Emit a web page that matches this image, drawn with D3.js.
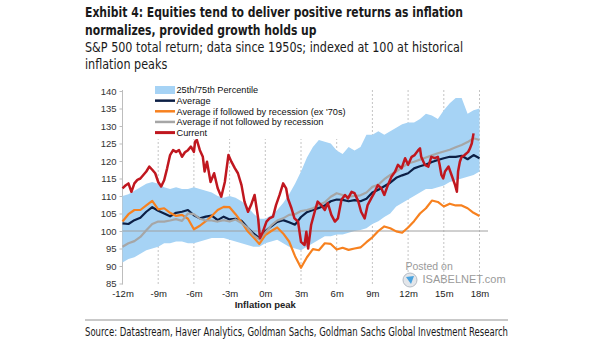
<!DOCTYPE html>
<html>
<head>
<meta charset="utf-8">
<script src="https://cdn.jsdelivr.net/npm/d3@7/dist/d3.min.js"></script>
<style>
  html, body { margin: 0; padding: 0; background: #fff; }
  svg { display: block; }
  .narrow { font-family: "Liberation Sans Narrow", "Arial Narrow", "DejaVu Sans Condensed", "Liberation Sans", sans-serif; font-stretch: condensed; }
  .sans { font-family: "Liberation Sans", Arial, "Helvetica", sans-serif; }
</style>
</head>
<body>
<svg id="chart" width="605" height="341"></svg>
<script>
// ---------------- DATA ----------------
const titleLines = [
  "Exhibit 4: Equities tend to deliver positive returns as inflation",
  "normalizes, provided growth holds up"
];
const subtitleLines = [
  "S&P 500 total return; data since 1950s; indexed at 100 at historical",
  "inflation peaks"
];
const sourceText = "Source: Datastream, Haver Analytics, Goldman Sachs, Goldman Sachs Global Investment Research";

const legendLabels = [
  "25th/75th Percentile",
  "Average",
  "Average if followed by recession (ex '70s)",
  "Average if not followed by recession",
  "Current"
];

const xTickMonths = [-12, -9, -6, -3, 0, 3, 6, 9, 12, 15, 18];
const xTickLabels = ["-12m", "-9m", "-6m", "-3m", "0m", "3m", "6m", "9m", "12m", "15m", "18m"];
const yTicks = [85, 90, 95, 100, 105, 110, 115, 120, 125, 130, 135, 140];

const months = [-12, -11.5, -11, -10.5, -10, -9.5, -9, -8.5, -8, -7.5, -7, -6.5, -6, -5.5, -5, -4.5, -4, -3.5, -3, -2.5, -2, -1.5, -1, -0.5,
  0, 0.5, 1, 1.5, 2, 2.5, 3, 3.5, 4, 4.5, 5, 5.5, 6, 6.5, 7, 7.5, 8, 8.5, 9, 9.5, 10, 10.5, 11, 11.5, 12, 12.5, 13, 13.5, 14, 14.5, 15, 15.5, 16, 16.5, 17, 17.5, 18];

const bandUpper = [110, 110.5, 111.5, 112.5, 113.5, 114, 113.5, 112.5, 112, 112.5, 112, 112, 112.5, 112, 111.5, 111, 110, 109.5, 110, 109.5, 108.5, 107, 105, 103.5,
  103.5, 104.5, 106, 108, 110.5, 113.5, 117, 121, 124, 126, 125.5, 125, 123, 122, 124, 123, 124, 127.5, 127.5, 128.5, 127.5, 128.5, 129.5, 130.5, 131, 131, 132, 133.5, 133, 132, 134.5, 136.5, 138, 138, 133.5, 134.5, 135];
const bandLower = [91, 92, 92.5, 93.5, 94.5, 95, 95.5, 96.5, 96.5, 97, 97, 96.5, 96.5, 97, 97.5, 98, 98, 98, 97.5, 97, 96.5, 96, 95.5, 95.5,
  96.5, 97, 97.5, 96.5, 95.5, 95, 94.5, 95.5, 96.5, 97.5, 98.5, 98.5, 99, 99, 99.5, 100, 100.3, 100.8, 102, 102.8, 104, 105, 107, 108, 109, 110, 111, 112, 112, 112.5, 113, 114, 114.5, 115, 115.5, 116, 117];

const average = [102.2, 102, 103.1, 103.8, 105.5, 106.8, 105.8, 105, 104.2, 105.2, 105.5, 106, 104.5, 103.6, 104.1, 104.4, 103.1, 104.1, 103.3, 103.5, 102.9, 101, 99.3, 98,
  100, 101.3, 102.6, 103.1, 102.5, 101.8, 104, 105.4, 106, 106.6, 107.3, 108.5, 109, 108.9, 108.5, 108.8, 108.5, 109.2, 111, 111.8, 112.8, 113.8, 115.2, 115.9, 116.5, 117.9, 118.5, 119, 119.7, 120.3, 120.8, 121.2, 121.2, 121.5, 120.5, 121.7, 120.8];

const avgRecession = [102.7, 104.8, 106, 106, 107.3, 108.6, 106.2, 106.5, 105.2, 104.3, 104.6, 103.5, 100.5, 101.5, 102.8, 104.3, 106, 106.9, 106.8, 104.8, 102.5, 100, 98.2, 96.3,
  98.8, 100, 101, 99.3, 97, 92.8, 89.5, 92.5, 94.8, 94.5, 96.5, 96.3, 94.7, 95.2, 94.6, 95, 95.3, 96.8, 98.2, 100, 101.3, 100.8, 99.9, 99.5, 101, 102.8, 105, 106.5, 108.7, 108.3, 107, 107.8, 107.3, 107.3, 106.5, 105.2, 104.3];

const avgNoRecession = [95.5, 96.5, 97.1, 98.3, 100.2, 102, 102.7, 102.7, 103, 103.4, 102.9, 105, 104.8, 103.5, 103, 103, 102.7, 103.1, 102.7, 103.3, 102.3, 101, 98.8, 97.6,
  99.5, 101.6, 103, 103.6, 104.6, 104.8, 105.7, 106, 106.5, 107.4, 108.2, 109.8, 110.8, 110.3, 109.8, 110, 110.2, 111, 112.6, 113.2, 114.8, 116, 117, 118.2, 119.3, 119.8, 120.4, 121, 121.6, 122.2, 122.7, 123.2, 123.9, 124.6, 125.4, 126.5, 126];

const currentMonths = [-12, -11.75, -11.5, -11.25, -11, -10.75, -10.5, -10.25, -10, -9.75, -9.5, -9.25, -9, -8.75, -8.5, -8.25, -8, -7.75, -7.5, -7.25, -7, -6.75, -6.5, -6.25, -6, -5.9, -5.75, -5.5, -5.25, -5.1, -4.9, -4.6, -4.3, -4, -3.7, -3.4, -3.1, -2.85, -2.55, -2.3, -2,
  -1.75, -1.45, -1.2, -0.9, -0.6, -0.45, -0.2, 0.1, 0.35, 0.65, 0.9, 1.2, 1.5, 1.75, 1.9, 2.2, 2.45, 2.75, 3, 3.3, 3.45, 3.6, 3.85, 4.15, 4.4, 4.7, 5, 5.25, 5.55, 5.85, 6.1, 6.4, 6.7, 6.95, 7.25, 7.5, 7.8,
  8.05, 8.35, 8.6, 8.9, 9.2, 9.45, 9.75, 10, 10.3, 10.6, 10.9, 11.15, 11.45, 11.75, 12, 12.3, 12.55, 12.85, 13, 13.1, 13.4, 13.7, 13.95, 14.25, 14.5, 14.65, 14.8, 14.95, 15.1, 15.4, 15.65, 15.95, 16.1, 16.2, 16.35, 16.5, 16.75, 17.05, 17.2, 17.35, 17.5];
const currentValues = [112.2, 113, 113.6, 111.2, 113.6, 114.6, 115, 116, 117, 118.4, 117.5, 116.5, 114, 112.7, 114.5, 117.9, 121.7, 123.1, 122.6, 123.1, 121.2, 122.5, 123.1, 124.1, 122.6, 125.5, 126, 123.1, 121.2, 117, 119.8, 114, 116.5, 112.2, 109.8, 114, 121.7, 119.8, 117.9, 116.5, 113.1,
  108.4, 105.5, 107.4, 110.3, 103.6, 97.9, 99.8, 102.7, 103.6, 104.1, 107.4, 110.3, 113.6, 112.2, 109.3, 106.5, 103.6, 102.7, 96.9, 96, 99.8, 95, 101.7, 105.5, 108.4, 107.4, 106, 108, 104.6, 102.7, 103.6, 108.9, 110.3, 109.3, 111.2, 110.8, 108.6,
  105.5, 103.6, 107.4, 109.3, 111.2, 113.1, 112.2, 110.3, 113.1, 115.5, 116.9, 118.9, 117.9, 120.8, 118.9, 121.2, 121.7, 123.1, 123.6, 121.2, 118.9, 118.4, 121.2, 120.8, 121.2, 118.9, 116, 115, 117, 118.4, 116, 113.1, 111.2, 117, 119.8, 121.2, 121.7, 122.6, 123.6, 125, 127.9];

const colors = {
  band: "#a6d3f5",
  average: "#0c1f45",
  recession: "#f7811f",
  noRecession: "#a6a6a6",
  current: "#c0171f"
};

// ---------------- DRAW ----------------
const svg = d3.select("#chart");

const x = d3.scaleLinear().domain([-12, 18]).range([122.5, 479.5]);
const y = d3.scaleLinear().domain([85, 140]).range([283.5, 91]);

// fit a block of text lines so that its widest (first) line spans targetWidth
function fitBlock(sel, targetWidth) {
  const nodes = sel.nodes();
  const w0 = nodes[0].getComputedTextLength();
  const k = targetWidth / w0;
  nodes.forEach(n => {
    const w = n.getComputedTextLength();
    d3.select(n).attr("textLength", w * k).attr("lengthAdjust", "spacingAndGlyphs");
  });
}

// Titles
const title = svg.append("g").attr("class", "narrow");
const tLines = title.selectAll("text.t").data(titleLines).join("text")
  .attr("class", "t")
  .attr("x", 85).attr("y", (d, i) => 17 + i * 17.5)
  .attr("font-size", 14).attr("font-weight", "bold").attr("fill", "#1a1a1a")
  .text(d => d);
fitBlock(tLines, 378);
const sLines = title.selectAll("text.s").data(subtitleLines).join("text")
  .attr("class", "s")
  .attr("x", 85).attr("y", (d, i) => 52 + i * 17)
  .attr("font-size", 14).attr("fill", "#1a1a1a")
  .text(d => d);
fitBlock(sLines, 378);

// Gridlines (vertical dotted)
const grid = svg.append("g");
grid.selectAll("line").data(xTickMonths.slice(1)).join("line")
  .attr("x1", d => x(d)).attr("x2", d => x(d))
  .attr("y1", 90).attr("y2", 285)
  .attr("stroke", "#c4c4c4").attr("stroke-width", 1)
  .attr("stroke-dasharray", "2,2");

// Y axis
const yAxis = d3.axisLeft(y).tickValues(yTicks).tickSize(3).tickPadding(3);
const yg = svg.append("g").attr("transform", "translate(122.5,0)").call(yAxis);
yg.select(".domain").attr("stroke", "#bdbdbd").attr("d", `M-0,${y(85) + 1}V${y(140) - 1}`);
yg.selectAll(".tick line").attr("stroke", "#bdbdbd");
yg.selectAll(".tick text").attr("class", "sans").attr("font-size", 9.5).attr("fill", "#333");

// X axis labels (no line)
const xAxis = d3.axisBottom(x).tickValues(xTickMonths).tickFormat((d, i) => xTickLabels[i]).tickSize(0).tickPadding(0);
const xg = svg.append("g").attr("transform", "translate(0,290.5)").call(xAxis);
xg.select(".domain").remove();
xg.selectAll(".tick text").attr("class", "sans").attr("font-size", 9.5).attr("fill", "#222").attr("dy", "0.71em");

svg.append("text").attr("class", "sans")
  .attr("x", x(0)).attr("y", 307.5).attr("text-anchor", "middle")
  .attr("font-size", 9.5).attr("font-weight", "bold").attr("fill", "#222")
  .text("Inflation peak");

// Band
const bandData = months.map((m, i) => ({ m, lo: bandLower[i], hi: bandUpper[i] }));
svg.append("path").datum(bandData)
  .attr("fill", colors.band)
  .attr("d", d3.area().x(d => x(d.m)).y0(d => y(d.lo)).y1(d => y(d.hi)));

// 100 reference line
svg.append("line")
  .attr("x1", x(-12)).attr("x2", 488)
  .attr("y1", y(100)).attr("y2", y(100))
  .attr("stroke", "#a0a0a0").attr("stroke-width", 1);

// Lines
const line = d3.line().x(d => x(d[0])).y(d => y(d[1]));
const series = [
  { vals: average, color: colors.average, w: 2.2 },
  { vals: avgRecession, color: colors.recession, w: 2.2 },
  { vals: avgNoRecession, color: colors.noRecession, w: 2.2 }
];
series.forEach(s => {
  svg.append("path").datum(months.map((m, i) => [m, s.vals[i]]))
    .attr("fill", "none").attr("stroke", s.color).attr("stroke-width", s.w)
    .attr("stroke-linejoin", "round").attr("d", line);
});
svg.append("path").datum(currentMonths.map((m, i) => [m, currentValues[i]]))
  .attr("fill", "none").attr("stroke", colors.current).attr("stroke-width", 2.5)
  .attr("stroke-linejoin", "round").attr("d", line);

// Legend
const lg = svg.append("g");
lg.append("rect").attr("x", 150).attr("y", 83).attr("width", 195).attr("height", 56).attr("fill", "#fff");
const legendColors = [colors.band, colors.average, colors.recession, colors.noRecession, colors.current];
legendLabels.forEach((lab, i) => {
  const cy = 90 + i * 10.65;
  if (i === 0) {
    lg.append("rect").attr("x", 155).attr("y", cy - 4).attr("width", 20).attr("height", 8).attr("fill", legendColors[i]);
  } else {
    lg.append("line").attr("x1", 155).attr("x2", 175).attr("y1", cy).attr("y2", cy)
      .attr("stroke", legendColors[i]).attr("stroke-width", i === 4 ? 3 : 2.5);
  }
  lg.append("text").attr("class", "sans").attr("x", 176.5).attr("y", cy).attr("dy", "0.35em")
    .attr("font-size", 9.2).attr("fill", "#111").text(lab);
});

// Watermark
const wm = svg.append("g").attr("class", "sans");
wm.append("text").attr("x", 405.5).attr("y", 269.5).attr("font-size", 10.5).attr("fill", "#9a9a9a").text("Posted on");
const globe = wm.append("g").attr("transform", "translate(410,280)");
globe.append("circle").attr("r", 7).attr("fill", "#e3e6ea").attr("stroke", "#b5bcc5").attr("stroke-width", 1);
globe.append("path").attr("d", "M-4,-3 L4,-4 L1,4 Z").attr("fill", "#4aa3df");
wm.append("text").attr("x", 422.5).attr("y", 283).attr("font-size", 11).attr("fill", "#9a9a9a").text("ISABELNET.com");

// Source
svg.append("line").attr("x1", 85).attr("x2", 508).attr("y1", 320).attr("y2", 320)
  .attr("stroke", "#c9c9c9").attr("stroke-width", 2);
const src = svg.append("text").attr("class", "narrow").attr("x", 85).attr("y", 336)
  .attr("font-size", 11.5).attr("fill", "#1a1a1a").text(sourceText);
fitBlock(src, 423);
</script>
</body>
</html>
